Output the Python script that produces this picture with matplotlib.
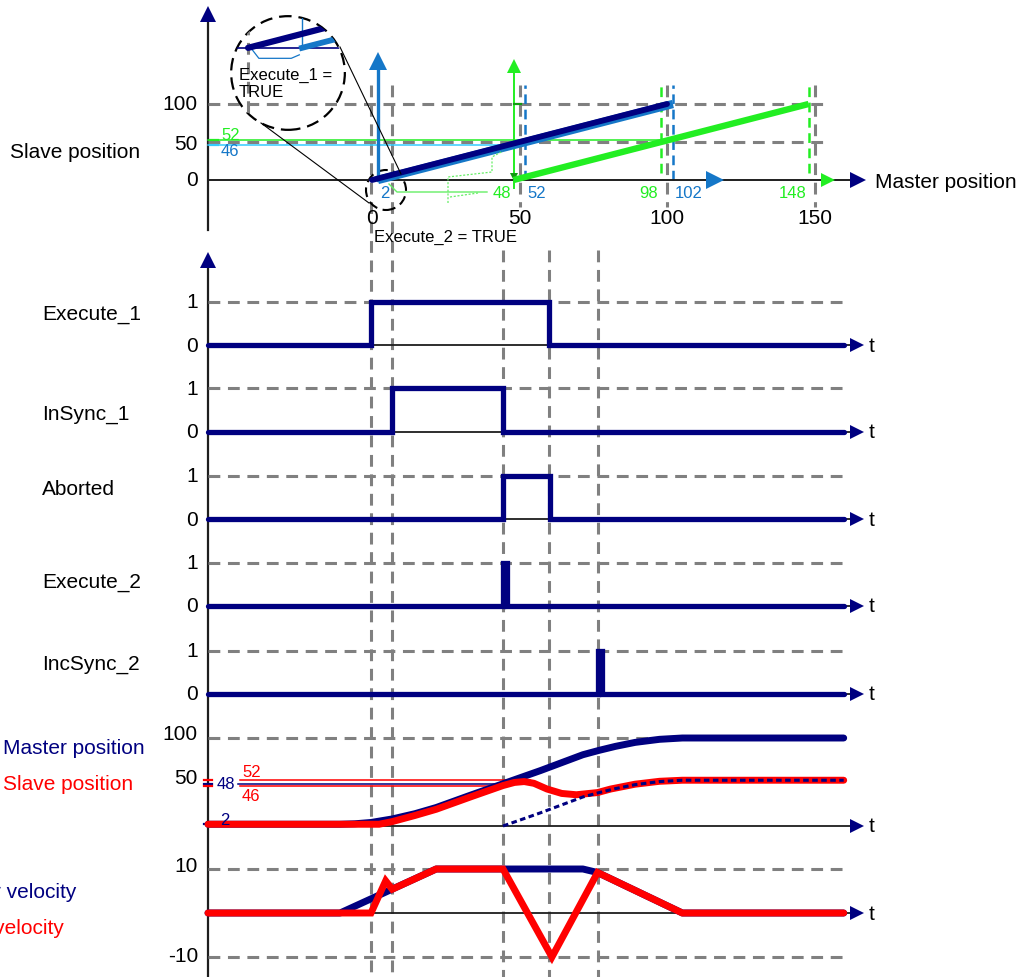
import numpy as np
import matplotlib
matplotlib.use("Agg")
import matplotlib.pyplot as plt
from matplotlib.patches import Circle, Ellipse

plt.rcParams["font.family"] = ["Liberation Sans", "DejaVu Sans"]
plt.rcParams["lines.scale_dashes"] = False

NAVY = "#000080"
RED = "#FF0000"
BLUE = "#1577C8"
GREEN = "#22EE22"
CYAN = "#33CCFF"
GRAY = "#808080"
AXIS = "#1E1E1E"
FS = 15
FS_SMALL = 12

# ---------------- data ----------------
# Cam profiles: slave position over master position
cam1_master = [0, 100]
cam1_slave = [0, 100]
cam2_master = [2, 102]
cam2_slave = [0, 100]
cam3_master = [48, 148]
cam3_slave = [0, 100]
master_ticks = [0, 50, 100, 150]
slave_ticks = [0, 50, 100]
cam2_marks = [52, 102]
cam3_marks = [98, 148]
cam2_start = 2
cam3_start = 48
slave_at_switch = 46
slave_target = 52
master_at_switch = 48
master_start = 2

# Timing diagram: digital signals (step edges)
event_times = [10.0, 11.3, 18.1, 20.9, 23.9]
execute1_t = [0, 10.0, 20.9, 39.0]
execute1_v = [0, 1, 0, 0]
insync1_t = [0, 11.3, 18.1, 39.0]
insync1_v = [0, 1, 0, 0]
aborted_t = [0, 18.1, 21.0, 39.0]
aborted_v = [0, 1, 0, 0]
execute2_t = [0, 18.1, 18.35, 39.0]
execute2_v = [0, 1, 0, 0]
incsync2_t = [0, 23.9, 24.2, 39.0]
incsync2_v = [0, 1, 0, 0]

# Positions over time
pos_t = [0, 8.1, 9.0, 10.0, 11.3, 12.7, 14.0, 16.1, 18.1, 20.4, 23.0, 24.0, 25.0, 26.2, 27.7, 29.1, 39.0]
master_pos = [2, 2, 2.5, 4, 8, 14, 21, 35, 48, 63, 81, 86, 90.5, 95, 98.5, 100, 100]
slave_pos_t = [0, 10.5, 11.3, 12.7, 14.0, 16.1, 18.1, 18.8, 19.4, 20.0, 20.8, 21.7, 22.6, 23.9,
               24.7, 26.2, 27.7, 29.1, 39.0]
slave_pos = [2, 2, 5, 12, 19, 33, 46, 49.5, 50.5, 48.5, 42, 37, 35.5, 38, 42, 47.5, 50.8, 52, 52]

# Velocities over time
master_vel_t = [0, 8.1, 14.0, 23.0, 23.9, 29.1, 39.0]
master_vel = [0, 0, 10, 10, 9.2, 0, 0]
slave_vel_t = [0, 10.0, 10.9, 11.3, 14.0, 18.1, 21.1, 23.9, 29.1, 39.0]
slave_vel = [0, 0, 7.3, 5.4, 10, 10, -10, 9.2, 0, 0]

# ---------------- layout helpers ----------------
W, H = 1021, 977
fig = plt.figure(figsize=(W / 100, H / 100), dpi=100)

TMAP = (208, 0.0, 16.3)     # pixel of t=0, value, pixels per unit
MMAP = (372, 0.0, 2.95)     # master position axis of the cam panel
SMAP = (180, 0.0, 0.76)     # slave position axis of the cam panel


def panel(py_top, py_bot, xmap, ymap):
    ax = fig.add_axes([0, 1 - py_bot / H, 1, (py_bot - py_top) / H])
    px0, x0, kx = xmap
    ax.set_xlim(x0 - px0 / kx, x0 + (W - px0) / kx)
    py0, y0, ky = ymap
    ax.set_ylim(y0 - (py_bot - py0) / ky, y0 + (py0 - py_top) / ky)
    ax.set_axis_off()
    return ax


def tx(px):
    return (px - TMAP[0]) / TMAP[2]


def mx(px):
    return (px - MMAP[0]) / MMAP[2]


def sy(py):
    return (SMAP[0] - py) / SMAP[2]


def ftext(px, py, s, **kw):
    kw.setdefault("va", "center")
    kw.setdefault("fontsize", FS)
    fig.text(px / W, 1 - py / H, s, **kw)


def ytick(ax, val, s, dy=0):
    ax.annotate(s, xy=(198, val), xycoords=("figure pixels", "data"),
                xytext=(0, -dy), textcoords="offset pixels",
                ha="right", va="center", fontsize=FS, color="black")


GRID = dict(color=GRAY, lw=2.2, ls=(0, (8.5, 5.5)), solid_capstyle="butt")
T_GRID_END = tx(845)
T_AX_END = tx(852)
T_ARROW = tx(857)

# ---------------- background: time markers and axes ----------------
ax_bg = panel(0, H, TMAP, (0, 0, -1))
for t in event_times[:2]:
    ax_bg.plot([t, t], [85, H], **GRID)
for t in event_times[2:]:
    ax_bg.plot([t, t], [250, H], **GRID)
ax_bg.plot([0, 0], [20, 230], color=AXIS, lw=1.6)
ax_bg.plot([0], [14], marker="^", ms=11, color=NAVY, mew=0)
ax_bg.plot([0, 0], [266, H], color=AXIS, lw=1.6)
ax_bg.plot([0], [260], marker="^", ms=11, color=NAVY, mew=0)

# ---------------- cam panel ----------------
axt = panel(0, 250, MMAP, SMAP)
for m in master_ticks[1:]:
    axt.plot([m, m], [sy(85), sy(207)], **GRID)
for s in slave_ticks[1:]:
    axt.plot([mx(208), mx(825)], [s, s], **GRID)

axt.plot([mx(208), cam3_start + slave_target], [slave_target] * 2, color=GREEN, lw=1.1)
axt.plot([mx(208), cam3_start], [slave_at_switch] * 2, color=CYAN, lw=1.1)
axt.plot([mx(210), mx(218)], [slave_target] * 2, color=GREEN, lw=1.6)
axt.plot([mx(210), mx(218)], [slave_at_switch] * 2, color=CYAN, lw=1.6)
axt.annotate(str(slave_target), xy=(mx(221), slave_target), xytext=(0, 5),
             textcoords="offset pixels", ha="left", va="center", fontsize=FS_SMALL, color=GREEN)
axt.annotate(str(slave_at_switch), xy=(mx(221), slave_at_switch), xytext=(0, -6),
             textcoords="offset pixels", ha="left", va="center", fontsize=FS_SMALL, color=BLUE)

for m in cam2_marks:
    axt.plot([m, m], [0, sy(85)], color=BLUE, lw=1.8, ls=(0, (7, 4)))
for m in cam3_marks:
    axt.plot([m, m], [sy(173), sy(85)], color=GREEN, lw=1.8, ls=(0, (7, 4)))

# master axis with the shifted axes of the two other cams
axt.plot([mx(208), mx(852)], [0, 0], color=AXIS, lw=1.4)
axt.plot([mx(858)], [0], marker=">", ms=11, color=NAVY, mew=0)
axt.plot([mx(715)], [0], marker=">", ms=13, color=BLUE, mew=0)
axt.plot([mx(828)], [0], marker=">", ms=10, color=GREEN, mew=0)
axt.plot([cam2_start] * 2, [0, sy(66)], color=BLUE, lw=2.4)
axt.plot([cam2_start], [sy(61)], marker="^", ms=13, color=BLUE, mew=0)
axt.plot([cam3_start] * 2, [sy(188), sy(70)], color=GREEN, lw=1.4)
axt.plot([cam3_start], [sy(66)], marker="^", ms=10, color=GREEN, mew=0)
axt.plot([cam3_start], [sy(177)], marker="v", ms=6, color="#119911", mew=0)
for s in slave_ticks[1:]:
    axt.plot([cam3_start, cam3_start + 2.5], [s, s], color="#119911", lw=1.6)

axt.plot(cam3_master, cam3_slave, color=GREEN, lw=4.6, solid_capstyle="butt")
axt.plot(cam2_master, cam2_slave, color=BLUE, lw=6.0, solid_capstyle="butt")
axt.plot(cam1_master, cam1_slave, color=NAVY, lw=4.2, solid_capstyle="round")

# guide lines from the small marks below the master axis
axt.plot([mx(389), mx(397), mx(487)], [sy(184), sy(192), sy(192)], color="#66EE66", lw=1.0)
axt.plot([mx(448), mx(448), mx(492), mx(492), mx(503)],
         [sy(203), sy(177), sy(172), sy(157), sy(151)], color="#66EE66", lw=0.9, ls=(0, (1.5, 1.2)))
axt.plot([mx(450), mx(478)], [sy(197), sy(193)], color="#66EE66", lw=0.9, ls=(0, (1.5, 1.2)))

for m, c, ha, dx in [(cam2_start, BLUE, "left", 2), (cam3_start, GREEN, "right", -2),
                     (cam2_marks[0], BLUE, "left", 2), (cam3_marks[0], GREEN, "right", -3),
                     (cam2_marks[1], BLUE, "left", 2), (cam3_marks[1], GREEN, "right", -2)]:
    axt.annotate(str(m), xy=(m, 0), xytext=(dx, -14), textcoords="offset pixels",
                 ha=ha, va="center", fontsize=FS_SMALL, color=c)
for m in master_ticks:
    axt.annotate(str(m), xy=(m, 0), xytext=(0, -38), textcoords="offset pixels",
                 ha="center", va="center", fontsize=FS, color="black")
for s, dy in zip(slave_ticks, [1, 3, 0]):
    ytick(axt, s, str(s), dy)

# magnifier circles
axt.add_patch(Ellipse((mx(386), sy(190)), 40 / MMAP[2], 40 / SMAP[2], fill=False,
                      ec="black", lw=1.5, ls=(0, (7, 4))))
axt.plot([mx(340), mx(401)], [sy(47), sy(174)], color="black", lw=0.8)
axt.plot([mx(261), mx(369)], [sy(123), sy(203)], color="black", lw=0.8)

ftext(10, 152, "Slave position")
ftext(875, 182, "Master position")
ftext(445, 237, "Execute_2 = TRUE", fontsize=FS_SMALL, ha="center")

# zoomed view of the cam start
axz = fig.add_axes([230 / W, 1 - 131 / H, 116 / W, 116 / H])
axz.set_xlim(-0.67, 3.63)
axz.set_ylim(-11.9, 4.7)
axz.set_axis_off()
ring = Circle((0.5, 0.5), 0.49, transform=axz.transAxes, fill=False, ec="black",
              lw=1.6, ls=(0, (9, 5)))
axz.add_patch(ring)
clip = Circle((0.5, 0.5), 0.49, transform=axz.transAxes, visible=False)
axz.add_patch(clip)
zl = []
zl += axz.plot([-1, 4], [0, 0], color=NAVY, lw=1.2)
zl += axz.plot([0, 0], [-12, 5], **GRID)
zl += axz.plot([cam2_start] * 2, [0, 5], color=BLUE, lw=1.0)
zl += axz.plot([0.1, 0.4, 1.6, 1.9], [0, -1.5, -1.5, -1.0], color=BLUE, lw=0.9)
zl += axz.plot(cam2_master, cam2_slave, color=BLUE, lw=4.2)
zl += axz.plot(cam1_master, cam1_slave, color=NAVY, lw=4.5, solid_capstyle="round")
for ln in zl:
    ln.set_clip_path(clip)
ftext(239, 84, "Execute_1 =\nTRUE", fontsize=FS_SMALL, ha="left", linespacing=1.1)

# ---------------- signal rows ----------------
rows = [
    ("Execute_1", execute1_t, execute1_v, 345, 315),
    ("InSync_1", insync1_t, insync1_v, 432, 415),
    ("Aborted", aborted_t, aborted_v, 519, 490),
    ("Execute_2", execute2_t, execute2_v, 606, 582),
    ("IncSync_2", incsync2_t, incsync2_v, 694, 665),
]
ROW_K = 43.5
for name, tt, vv, py0, py_lab in rows:
    ax = panel(py0 - 70, py0 + 20, TMAP, (py0, 0, ROW_K))
    ax.plot([0, T_GRID_END], [1, 1], **GRID)
    ax.plot([0, T_AX_END], [0, 0], color=AXIS, lw=1.3)
    ax.plot(tt, vv, drawstyle="steps-post", color=NAVY, lw=3.8,
            solid_capstyle="round", solid_joinstyle="miter")
    ax.plot([T_ARROW], [0], marker=">", ms=10, color=NAVY, mew=0)
    ytick(ax, 0, "0", 1)
    ytick(ax, 1, "1", 1)
    ftext(869, py0 + 1, "t", ha="left")
    ftext(42, py_lab, name, ha="left")

# ---------------- position panel ----------------
axp = panel(715, 845, TMAP, (826, 0, 0.88))
axp.plot([0, T_GRID_END], [100, 100], **GRID)
axp.plot([0, T_AX_END], [0, 0], color=AXIS, lw=1.3)
axp.plot([tx(240), tx(530)], [slave_target] * 2, color=RED, lw=1.1)
axp.plot([tx(238), event_times[2]], [master_at_switch] * 2, color=NAVY, lw=1.1)
axp.plot([tx(240), event_times[2]], [slave_at_switch] * 2, color=RED, lw=1.1)
for v, c in [(slave_target, RED), (master_at_switch, NAVY), (slave_at_switch, RED)]:
    axp.plot([tx(204), tx(212)], [v, v], color=c, lw=1.6)
axp.plot([tx(204), tx(213)], [master_start] * 2, color=NAVY, lw=1.6)
axp.annotate(str(slave_target), xy=(tx(242), slave_target), xytext=(0, 8), textcoords="offset pixels",
             ha="left", va="center", fontsize=FS_SMALL, color=RED)
axp.annotate(str(slave_at_switch), xy=(tx(242), slave_at_switch), xytext=(0, -11), textcoords="offset pixels",
             ha="left", va="center", fontsize=FS_SMALL, color=RED)
axp.annotate(str(master_at_switch), xy=(tx(217), master_at_switch), xytext=(0, -1), textcoords="offset pixels",
             ha="left", va="center", fontsize=FS_SMALL, color=NAVY)
axp.annotate(str(master_start), xy=(tx(220), master_start), xytext=(0, 4), textcoords="offset pixels",
             ha="left", va="center", fontsize=FS_SMALL, color=NAVY)

axp.plot(pos_t, master_pos, color=NAVY, lw=5, solid_capstyle="round", solid_joinstyle="round")
axp.plot(slave_pos_t, slave_pos, color=RED, lw=5, solid_capstyle="round", solid_joinstyle="round")
i0 = pos_t.index(event_times[2])
axp.plot(pos_t[i0:], np.array(master_pos[i0:]) - master_at_switch, color=NAVY, lw=2.2,
         ls=(0, (4, 2.5)))
axp.plot([T_ARROW], [0], marker=">", ms=10, color=NAVY, mew=0)
ytick(axp, 100, "100", -4)
ytick(axp, 50, "50", -3)
ftext(869, 827, "t", ha="left")
ftext(3, 748, "Master position", ha="left", color=NAVY)
ftext(3, 785, "Slave position", ha="left", color=RED)

# ---------------- velocity panel ----------------
axv = panel(850, H, TMAP, (913, 0, 4.4))
axv.plot([0, T_GRID_END], [10, 10], **GRID)
axv.plot([0, T_GRID_END], [-10, -10], **GRID)
axv.plot([0, T_AX_END], [0, 0], color=AXIS, lw=1.3)
axv.plot(master_vel_t, master_vel, color=NAVY, lw=5, solid_capstyle="round", solid_joinstyle="round")
axv.plot(slave_vel_t, slave_vel, color=RED, lw=5, solid_capstyle="round", solid_joinstyle="miter")
axv.plot([T_ARROW], [0], marker=">", ms=10, color=NAVY, mew=0)
ytick(axv, 10, "10", -2)
ytick(axv, -10, "-10")
ftext(869, 914, "t", ha="left")
ftext(76, 892, "Master velocity", ha="right", color=NAVY)
ftext(64, 929, "Slave velocity", ha="right", color=RED)

fig.savefig("out.png", dpi=100)
